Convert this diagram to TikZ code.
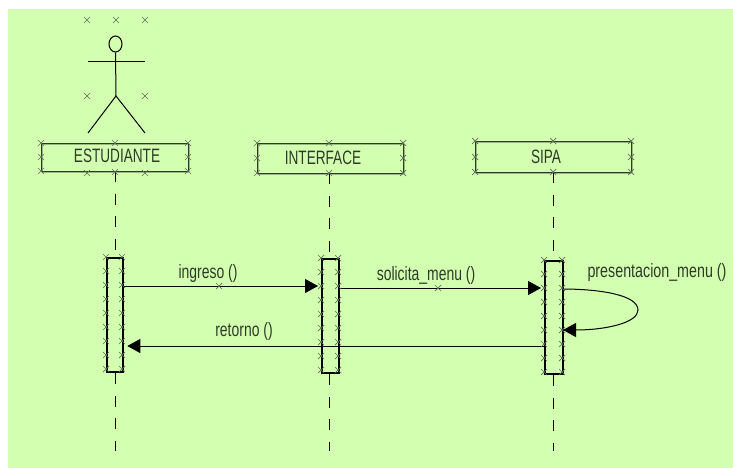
\documentclass[tikz,border=0pt]{standalone}
\usepackage{fontspec}
\setmainfont{Liberation Sans}
\usetikzlibrary{arrows.meta,shapes.geometric}
\definecolor{bgreen}{HTML}{D3FFB1}
\definecolor{ink}{HTML}{2E3A28}
\definecolor{handle}{HTML}{5F6F58}
\newcommand{\lbl}[2][.82]{\scalebox{#1}[1.14]{\fontsize{17}{17}\selectfont #2}}
\tikzset{
  x=1pt,y=-1pt,
  lifebox/.style={draw=ink,line width=1.4pt,rounded corners=.5pt,inner sep=0pt,anchor=north west},
  activation/.style={draw=black,line width=2.3pt,inner sep=0pt,anchor=north west},
  lifeline/.style={draw=black,line width=1pt,dash pattern=on 11pt off 11.5pt},
  msg/.style={draw=black,line width=1pt,-{Triangle[length=13pt,width=14pt]},shorten >=3pt},
  limb/.style={draw=black,line width=1pt},
  txt/.style={text=ink,inner sep=0pt},
  hnd/.style={draw=handle,line width=.7pt},
  pics/hx/.style={code={\draw[hnd] (-3,-3) -- (3,3) (-3,3) -- (3,-3);}}
}
\begin{document}
\begin{tikzpicture}
\useasboundingbox (0,0) rectangle (733,468);
\fill[bgreen] (8,9) rectangle (733,468);

% actor
\node[draw=black,line width=1pt,ellipse,minimum width=13pt,minimum height=16pt,inner sep=0pt] (head) at (115.5,44) {};
\coordinate (hip) at (116,96);
\coordinate (armL) at (88,62);
\coordinate (armR) at (145,62);
\coordinate (legL) at (88,133);
\coordinate (legR) at (145,133);
\draw[limb] (head.south) -- (hip);
\draw[limb] (armL) -- (armR);
\draw[limb] (legL) -- (hip) -- (legR);

% lifeline heads
\node[lifebox,minimum width=147pt,minimum height=28pt] (b1) at (41,143) {};
\node[lifebox,minimum width=146pt,minimum height=30pt] (b2) at (257,143) {};
\node[lifebox,minimum width=156pt,minimum height=31pt] (b3) at (475,141) {};
\node[txt] (t1) at (117,156) {\lbl[.8]{ESTUDIANTE}};
\node[txt] (t2) at (323,158) {\lbl[.8]{INTERFACE}};
\node[txt] (t3) at (546,157) {\lbl[.8]{SIPA}};

% activations
\node[activation,minimum width=16pt,minimum height=114pt] (a1) at (106,257) {};
\node[activation,minimum width=17pt,minimum height=114pt] (a2) at (321,258) {};
\node[activation,minimum width=18pt,minimum height=113pt] (a3) at (544,260) {};

% lifelines
\coordinate (e1) at (115,451);
\coordinate (e2) at (329,451);
\coordinate (e3) at (553,451);
\draw[lifeline] (115,171) -- (a1.north -| e1);
\draw[lifeline] (a1.south -| e1) -- (e1);
\draw[lifeline] (329,173) -- (a2.north -| e2);
\draw[lifeline] (a2.south -| e2) -- (e2);
\draw[lifeline] (553,172) -- (a3.north -| e3);
\draw[lifeline] (a3.south -| e3) -- (e3);

% messages
\coordinate (y1) at (0,286);
\coordinate (y2) at (0,288);
\coordinate (y3) at (0,346);
\draw[msg] (a1.east |- y1) -- (a2.west |- y1);
\draw[msg] (a2.east |- y2) -- (a3.west |- y2);
\draw[msg] (a3.west |- y3) -- (a1.east |- y3);
\coordinate (s1) at (562,289);
\coordinate (s2) at (562,330);
\draw[msg,shorten >=-2pt] (s1) .. controls (600,289) and (638,295) .. (638,310) .. controls (638,323) and (605,330) .. (565,330);

% labels
\node[txt] (l1) at (208,273) {\lbl{ingreso ()}};
\node[txt] (l2) at (426,275) {\lbl{solicita\_menu ()}};
\node[txt] (l3) at (244,331) {\lbl{retorno ()}};
\node[txt] (l4) at (657,272) {\lbl[.84]{presentacion\_menu ()}};

% selection handles
\foreach \p in {(87,20),(116,20),(145,20),(87,96),(145,96),(87,173),(145,173),(115,172),
  (41,143),(115,143),(188,143),(41,157),(188,157),(41,171),(188,171),
  (257,143),(329,143),(403,143),(257,158),(403,158),(257,173),(329,173),(403,173),
  (475,141),(553,141),(631,141),(475,157),(631,157),(475,172),(553,172),(631,172),
  (219,286),(438,288)}
  \path \p pic {hx};
\foreach \yy in {257,271,...,371} {
  \path (106,\yy) pic {hx};
  \path (122,\yy) pic {hx};
}
\foreach \yy in {258,272,...,372} {
  \path (321,\yy) pic {hx};
  \path (338,\yy) pic {hx};
}
\foreach \yy in {260,274,...,373} {
  \path (544,\yy) pic {hx};
  \path (562,\yy) pic {hx};
}
\end{tikzpicture}
\end{document}
